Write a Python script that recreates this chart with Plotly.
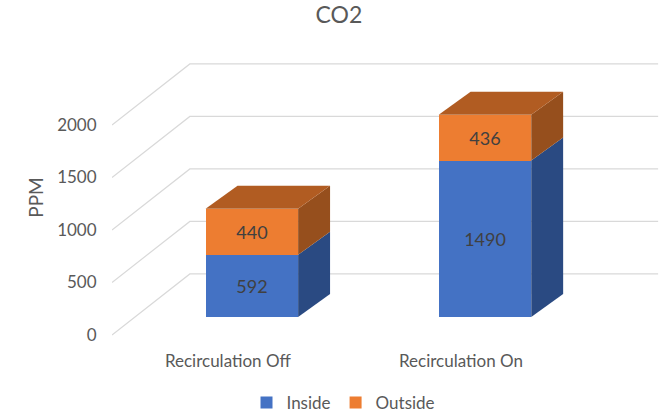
import plotly.graph_objects as go

# ---- data ----
categories = ["Recirculation Off", "Recirculation On"]
inside = [592, 1490]
outside = [440, 436]
series_names = ["Inside", "Outside"]
y_ticks = [0, 500, 1000, 1500, 2000]
y_tick_labels = ["0", "500", "1000", "1500", "2000"]
title_text = "CO2"
y_title = "PPM"

# ---- styling / pseudo-3D geometry (in axis units) ----
FONT = "Lato, 'Open Sans', sans-serif"
GREY = "#595959"
C_FRONT = ["#4472C4", "#ED7D31"]
C_SIDE = ["#2A4A82", "#964F1D"]
C_TOP = ["#2F5597", "#B15C22"]
BAR_W = 0.397          # bar width in category units
DX = 0.137             # depth offset in x (category units)
DY = 219               # depth offset in y (ppm)
FLOOR_FRONT = -171     # front floor edge offset (ppm) relative to bar baseline
WALL_BACK = 410        # back wall offset (ppm)
X_LEFT, X_WALL, X_RIGHT = -0.600, -0.266, 1.743
LABEL_SHIFT = -0.103

xs = list(range(len(categories)))
series = [inside, outside]

fig = go.Figure()

# front faces
for i, (name, vals) in enumerate(zip(series_names, series)):
    fig.add_trace(go.Bar(
        x=xs, y=vals, name=name, width=BAR_W,
        marker=dict(color=C_FRONT[i], line=dict(width=0)),
        text=[str(v) for v in vals], textposition="inside",
        insidetextanchor="middle",
        textfont=dict(color="#404040", size=18, family=FONT),
        hoverinfo="skip",
    ))

# side faces and top faces
for j, x in enumerate(xs):
    base = 0
    xr = x + BAR_W / 2
    xl = x - BAR_W / 2
    for i, vals in enumerate(series):
        top = base + vals[j]
        fig.add_trace(go.Scatter(
            x=[xr, xr + DX, xr + DX, xr, xr],
            y=[base, base + DY, top + DY, top, base],
            mode="lines", fill="toself", fillcolor=C_SIDE[i],
            line=dict(width=0, color=C_SIDE[i]),
            showlegend=False, hoverinfo="skip",
        ))
        base = top
    fig.add_trace(go.Scatter(
        x=[xl, xr, xr + DX, xl + DX, xl],
        y=[base, base, base + DY, base + DY, base],
        mode="lines", fill="toself", fillcolor=C_TOP[-1],
        line=dict(width=0, color=C_TOP[-1]),
        showlegend=False, hoverinfo="skip",
    ))

# gridlines: diagonal on the floor/side wall + horizontal on back wall
for v in y_ticks:
    fig.add_shape(
        type="path", layer="below", xref="x", yref="y",
        path=f"M {X_LEFT},{v + FLOOR_FRONT} L {X_WALL},{v + WALL_BACK} L {X_RIGHT},{v + WALL_BACK}",
        line=dict(color="#D9D9D9", width=1.2),
    )

fig.update_layout(
    width=667, height=414,
    barmode="stack",
    bargap=0,
    plot_bgcolor="white", paper_bgcolor="white",
    margin=dict(l=112, r=7, t=50, b=69, autoexpand=False),
    title=dict(text=title_text, x=0.508, xref="container", xanchor="center",
               y=0.983, yref="container", yanchor="top",
               font=dict(family=FONT, size=23, color=GREY)),
    font=dict(family=FONT, color=GREY),
    legend=dict(orientation="h", x=0.515, xref="container", xanchor="center",
                y=-0.1966, yref="paper", yanchor="middle",
                traceorder="normal", font=dict(size=17, color=GREY),
                itemwidth=30),
    showlegend=True,
    xaxis=dict(range=[X_LEFT, 1.751], showgrid=False, zeroline=False,
               showline=False, automargin=False, tickangle=0,
               tickvals=[x + LABEL_SHIFT for x in xs], ticktext=categories,
               ticks="outside", ticklen=1, tickcolor="rgba(0,0,0,0)",
               tickfont=dict(size=17, color=GREY, family=FONT)),
    yaxis=dict(range=[-267, 2543], showgrid=False, zeroline=False,
               showline=False, automargin=False,
               tickvals=[v + FLOOR_FRONT for v in y_ticks], ticktext=y_tick_labels,
               ticks="outside", ticklen=11, tickcolor="rgba(0,0,0,0)",
               tickfont=dict(size=17, color=GREY, family=FONT),
               title=dict(text=y_title, standoff=8,
                          font=dict(size=19, color=GREY, family=FONT))),
)

# remove the page's default body margin so the figure fills the window exactly
fig.write_html("out.html", config={"displayModeBar": False},
               post_script="document.body.style.margin='0px';")
